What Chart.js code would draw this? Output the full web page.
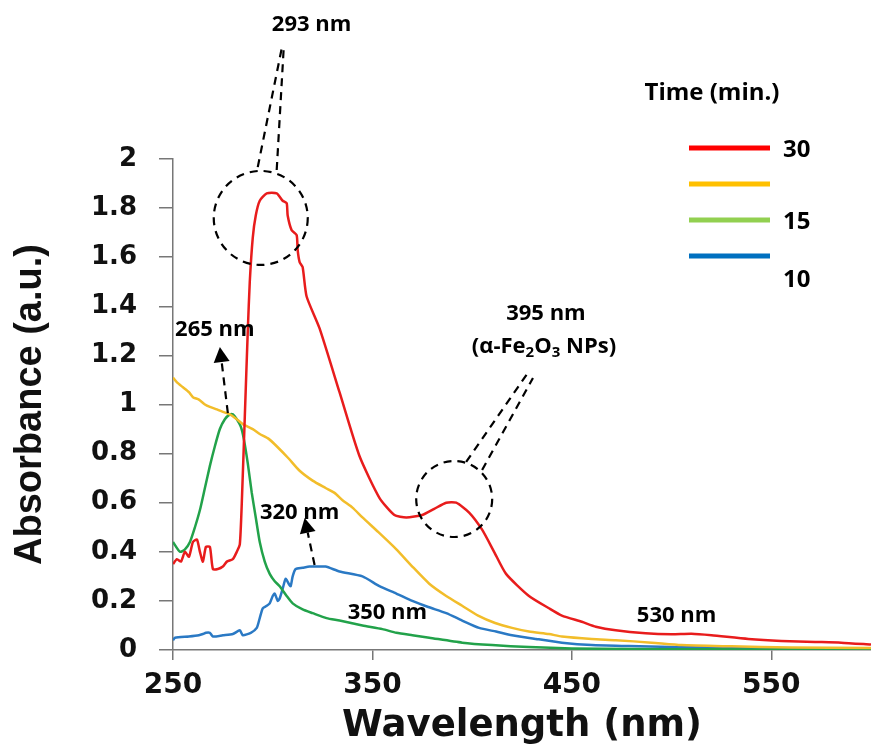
<!DOCTYPE html>
<html>
<head>
<meta charset="utf-8">
<script src="https://cdn.jsdelivr.net/npm/chart.js@4.4.1/dist/chart.umd.min.js"></script>
<style>
  html, body { margin: 0; padding: 0; background: #fff; }
</style>
</head>
<body>
<canvas id="uvChart" width="871" height="749"></canvas>
<script>
// UV-Vis spectra at different reaction times
var wl30 = [250, 252, 254, 256, 258, 260, 262, 263.5, 265, 266.5, 268.5, 270, 272.5, 275, 277, 280, 282, 283.5, 284.5, 286, 287.5, 288.5, 290, 291.5, 293.5, 297, 302, 305, 307, 307.5, 309.5, 312, 312.5, 313.5, 315, 317, 323.5, 333.5, 343.5, 353.5, 361, 367, 375, 381, 387, 392, 398.5, 405, 411, 417, 428.5, 438.5, 445, 455, 462, 472, 487, 500, 510, 520, 538.5, 555, 572, 585, 600];
var abs30 = [0.35, 0.37, 0.36, 0.40, 0.38, 0.44, 0.45, 0.40, 0.36, 0.42, 0.42, 0.33, 0.33, 0.34, 0.36, 0.37, 0.40, 0.43, 0.60, 0.95, 1.30, 1.50, 1.68, 1.77, 1.83, 1.86, 1.86, 1.83, 1.82, 1.77, 1.71, 1.69, 1.63, 1.58, 1.56, 1.44, 1.31, 1.05, 0.79, 0.62, 0.55, 0.54, 0.55, 0.575, 0.60, 0.60, 0.56, 0.49, 0.40, 0.31, 0.22, 0.17, 0.14, 0.115, 0.095, 0.08, 0.068, 0.064, 0.066, 0.06, 0.045, 0.037, 0.033, 0.03, 0.022];

var wl20 = [250, 252, 255, 258, 260, 263, 266, 268.5, 272, 275, 278.5, 282, 285, 290, 293.5, 298, 302, 308, 313.5, 320, 326.5, 331, 335, 340, 345, 353, 362, 370, 378.5, 387, 395, 403, 411.5, 420, 428.5, 438.5, 445, 460, 472, 490, 505, 530, 560, 600];
var abs20 = [1.11, 1.09, 1.07, 1.05, 1.03, 1.02, 1.00, 0.99, 0.98, 0.97, 0.96, 0.94, 0.92, 0.90, 0.88, 0.86, 0.83, 0.78, 0.73, 0.69, 0.66, 0.64, 0.61, 0.58, 0.54, 0.48, 0.41, 0.34, 0.27, 0.22, 0.18, 0.14, 0.11, 0.09, 0.075, 0.065, 0.055, 0.045, 0.04, 0.03, 0.02, 0.015, 0.01, 0.008];

var wl15 = [250, 253.5, 256, 258.5, 261, 263.5, 266, 268.5, 271, 273.5, 276, 278.5, 280, 282, 284, 285.5, 287.5, 289.5, 291.5, 293.5, 296, 298.5, 301, 303.5, 307, 310, 315, 320, 327, 333.5, 345, 355, 362, 370, 378.5, 395, 410, 428.5, 450, 480, 520, 560, 600];
var abs15 = [0.44, 0.40, 0.41, 0.44, 0.50, 0.57, 0.66, 0.75, 0.83, 0.90, 0.94, 0.96, 0.96, 0.94, 0.91, 0.86, 0.76, 0.64, 0.54, 0.44, 0.36, 0.31, 0.28, 0.26, 0.22, 0.19, 0.165, 0.15, 0.13, 0.12, 0.10, 0.085, 0.07, 0.06, 0.05, 0.03, 0.02, 0.012, 0.006, 0.004, 0.003, 0.002, 0.002];

var wl10 = [250, 251, 258, 263, 265, 266.5, 268.5, 270, 275, 280, 283.5, 285, 289, 292, 293.5, 295, 297, 298.5, 300, 301, 302.5, 303.5, 305, 306.5, 308, 309, 310, 311.5, 315, 318.5, 322, 326.5, 333.5, 345, 353.5, 362, 370, 378, 387, 395, 403.5, 412, 420, 432, 445, 460, 478.5, 500, 540, 600];
var abs10 = [0.04, 0.05, 0.055, 0.06, 0.065, 0.07, 0.07, 0.055, 0.06, 0.065, 0.08, 0.06, 0.07, 0.09, 0.13, 0.17, 0.18, 0.19, 0.22, 0.23, 0.20, 0.21, 0.25, 0.29, 0.27, 0.26, 0.30, 0.33, 0.335, 0.34, 0.34, 0.34, 0.32, 0.30, 0.26, 0.23, 0.20, 0.175, 0.15, 0.12, 0.09, 0.075, 0.06, 0.045, 0.03, 0.02, 0.016, 0.012, 0.008, 0.005];

var xTicks = [250, 350, 450, 550];
var legendTitle = 'Time (min.)';
var legendTexts = ['30', '', '15', '10'];

function pts(wl, ab) {
  return wl.map(function (w, i) { return { x: w, y: ab[i] }; });
}

var annoFont = 'bold 22px "Open Sans"';
var subFont = 'bold 15px "Open Sans"';
var keyFont = 'bold 24px "Open Sans"';

// dashed callouts around the peaks
var calloutPlugin = {
  id: 'callouts',
  afterDatasetsDraw: function (chart) {
    var ctx = chart.ctx;
    var xs = chart.scales.x, ys = chart.scales.y;
    function P(w, a) { return [xs.getPixelForValue(w), ys.getPixelForValue(a)]; }

    ctx.save();
    ctx.strokeStyle = '#000';
    ctx.fillStyle = '#000';
    ctx.lineWidth = 2.2;
    ctx.setLineDash([8, 6]);

    function circle(w, a, r) {
      var c = P(w, a);
      ctx.beginPath();
      ctx.arc(c[0], c[1], r, 0, Math.PI * 2);
      ctx.stroke();
    }
    function seg(w1, a1, w2, a2) {
      var p = P(w1, a1), q = P(w2, a2);
      ctx.beginPath();
      ctx.moveTo(p[0], p[1]);
      ctx.lineTo(q[0], q[1]);
      ctx.stroke();
    }
    function arrow(w1, a1, w2, a2) {
      var p = P(w1, a1), q = P(w2, a2);
      var ang = Math.atan2(q[1] - p[1], q[0] - p[0]);
      var hl = 15, hw = 8;
      var bx = q[0] - hl * Math.cos(ang), by = q[1] - hl * Math.sin(ang);
      ctx.beginPath();
      ctx.moveTo(p[0], p[1]);
      ctx.lineTo(bx, by);
      ctx.stroke();
      ctx.setLineDash([]);
      ctx.beginPath();
      ctx.moveTo(q[0], q[1]);
      ctx.lineTo(bx + hw * Math.sin(ang), by - hw * Math.cos(ang));
      ctx.lineTo(bx - hw * Math.sin(ang), by + hw * Math.cos(ang));
      ctx.closePath();
      ctx.fill();
      ctx.setLineDash([8, 6]);
    }

    // 293 nm peak
    circle(294, 1.76, 47);
    seg(292.5, 1.967, 305, 2.47);
    seg(302, 1.955, 305.5, 2.45);
    // 395 nm shoulder
    circle(391, 0.615, 38);
    seg(397, 0.766, 427.5, 1.124);
    seg(405, 0.733, 430.5, 1.108);
    // arrows to the 265 and 320 nm bands
    arrow(277.5, 0.965, 273.5, 1.234);
    arrow(321, 0.346, 316, 0.538);

    ctx.setLineDash([]);
    ctx.font = annoFont;
    ctx.textAlign = 'center';
    ctx.textBaseline = 'middle';
    function label(t, w, a) { var c = P(w, a); ctx.fillText(t, c[0], c[1]); }
    label('293 nm', 319.5, 2.546);
    label('265 nm', 271, 1.303);
    label('320 nm', 313.5, 0.558);
    label('350 nm', 357.5, 0.151);
    label('530 nm', 502.5, 0.138);
    label('395 nm', 437, 1.369);

    // (α-Fe2O3 NPs) with subscripts
    var parts = [['(α-Fe', 0], ['2', 1], ['O', 0], ['3', 1], [' NPs)', 0]];
    var total = 0;
    parts.forEach(function (p) {
      ctx.font = p[1] ? subFont : annoFont;
      total += ctx.measureText(p[0]).width;
    });
    var c = P(436, 1.234);
    var x = c[0] - total / 2;
    ctx.textAlign = 'left';
    parts.forEach(function (p) {
      ctx.font = p[1] ? subFont : annoFont;
      ctx.fillText(p[0], x, c[1] + (p[1] ? 6 : 0));
      x += ctx.measureText(p[0]).width;
    });
    ctx.restore();
  }
};

// legend block at the top right
var legendPlugin = {
  id: 'timeLegend',
  afterDraw: function (chart) {
    var ctx = chart.ctx;
    ctx.save();
    ctx.fillStyle = '#000';
    ctx.font = keyFont;
    ctx.textAlign = 'center';
    ctx.textBaseline = 'middle';
    ctx.fillText(legendTitle, 712, 93);
    ctx.textAlign = 'left';
    chart.data.datasets.forEach(function (ds, i) {
      var y = 148 + i * 36;
      ctx.strokeStyle = ds.keyColor;
      ctx.lineWidth = 5;
      ctx.beginPath();
      ctx.moveTo(689, y);
      ctx.lineTo(770, y);
      ctx.stroke();
      if (legendTexts[i]) {
        var shift = (i === chart.data.datasets.length - 1) ? 24 : 2;
        ctx.fillText(legendTexts[i], 783, y + shift);
      }
    });
    ctx.restore();
  }
};

new Chart(document.getElementById('uvChart'), {
  type: 'line',
  data: {
    datasets: [
      { label: '30', data: pts(wl30, abs30), borderColor: '#e81c1c', keyColor: '#ff0000' },
      { label: '20', data: pts(wl20, abs20), borderColor: '#f2bd2a', keyColor: '#ffc000' },
      { label: '15', data: pts(wl15, abs15), borderColor: '#22a24a', keyColor: '#92d050' },
      { label: '10', data: pts(wl10, abs10), borderColor: '#2a79c4', keyColor: '#0070c0' }
    ]
  },
  options: {
    responsive: false,
    animation: false,
    elements: {
      point: { radius: 0 },
      line: { borderWidth: 2.5, tension: 0.2, fill: false }
    },
    layout: { padding: { top: 159, left: 0, right: 0, bottom: 0 } },
    plugins: { legend: { display: false }, tooltip: { enabled: false } },
    scales: {
      x: {
        type: 'linear',
        min: 250,
        max: 600,
        afterBuildTicks: function (s) { s.ticks = xTicks.map(function (v) { return { value: v }; }); },
        afterFit: function (s) { s.height = 99; },
        grid: { drawOnChartArea: false, drawTicks: true, tickLength: 10, color: '#777', lineWidth: 1.5 },
        border: { color: '#777', width: 1.5 },
        ticks: { color: '#111', font: { family: 'DejaVu Sans', weight: 'bold', size: 28 }, padding: 9, maxRotation: 0 },
        title: { display: true, text: 'Wavelength (nm)', color: '#111', font: { family: 'DejaVu Sans', weight: 'bold', size: 37 }, padding: { top: 2, bottom: 0 } }
      },
      y: {
        min: 0,
        max: 2,
        afterFit: function (s) { s.width = 173; },
        grid: { drawOnChartArea: false, drawTicks: true, tickLength: 14, color: '#777', lineWidth: 1.5 },
        border: { color: '#777', width: 1.5 },
        ticks: {
          stepSize: 0.2,
          color: '#111',
          padding: 22,
          font: { family: 'DejaVu Sans', weight: 'bold', size: 26 },
          callback: function (v) { return String(+v.toFixed(1)); }
        },
        title: { display: true, text: 'Absorbance (a.u.)', color: '#111', font: { family: 'Liberation Sans', weight: 'bold', size: 38 }, padding: { top: 8, bottom: 0 } }
      }
    }
  },
  plugins: [calloutPlugin, legendPlugin]
});
</script>
</body>
</html>
